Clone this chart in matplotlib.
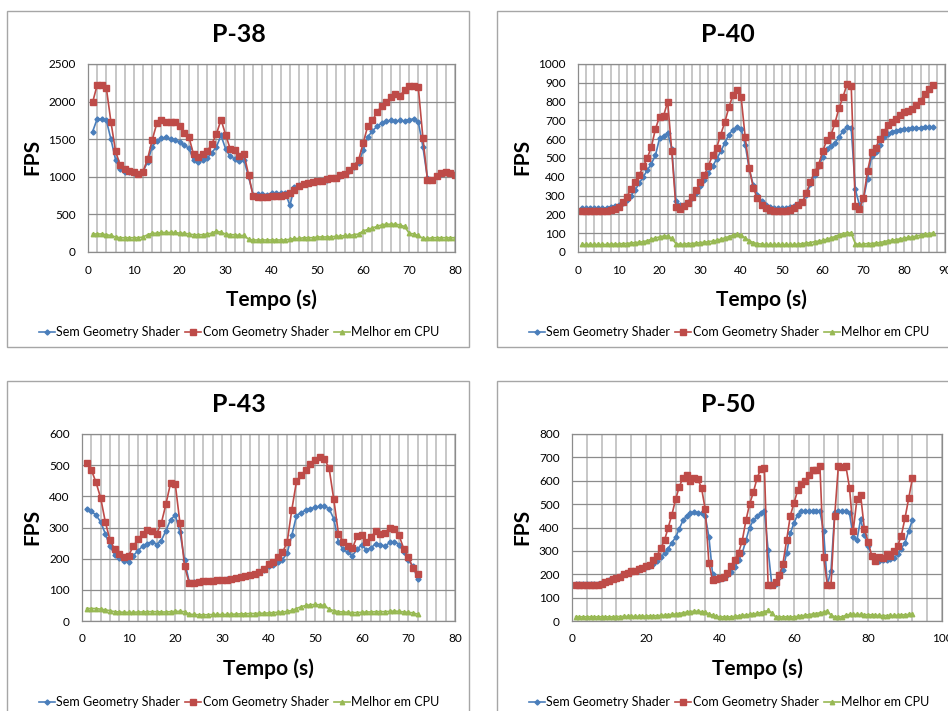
import matplotlib
matplotlib.use("Agg")
import matplotlib.pyplot as plt
from matplotlib.patches import Rectangle
from matplotlib.ticker import MultipleLocator

plt.rcParams['font.family'] = ['Lato', 'DejaVu Sans']

series_names = ["Sem Geometry Shader", "Com Geometry Shader", "Melhor em CPU"]
series_colors = ["#4a7ebb", "#be4b48", "#98b954"]

# ---- P-38 ----
p38_sem = [1600, 1770, 1770, 1750, 1500, 1230, 1110, 1070, 1060, 1050,
           1040, 1070, 1200, 1400, 1480, 1510, 1530, 1500, 1490, 1460,
           1420, 1380, 1220, 1200, 1230, 1250, 1320, 1400, 1550, 1370,
           1270, 1240, 1210, 1220, 1000, 760, 770, 770, 760, 780,
           780, 780, 790, 620, 860, 890, 910, 920, 930, 940,
           950, 960, 980, 990, 1010, 1040, 1080, 1130, 1180, 1360,
           1530, 1610, 1670, 1710, 1740, 1750, 1740, 1750, 1740, 1760,
           1770, 1730, 1400, 980, 960, 1010, 1040, 1060, 1050, 1040]
p38_com = [1990, 2220, 2220, 2180, 1730, 1340, 1160, 1100, 1080, 1060,
           1040, 1070, 1240, 1490, 1710, 1760, 1730, 1730, 1730, 1680,
           1580, 1530, 1300, 1260, 1300, 1340, 1440, 1570, 1760, 1560,
           1370, 1350, 1270, 1300, 1030, 740, 730, 730, 730, 740,
           740, 750, 760, 780, 820, 880, 910, 920, 930, 940,
           950, 970, 980, 990, 1020, 1040, 1090, 1150, 1230, 1450,
           1680, 1750, 1860, 1940, 1990, 2060, 2100, 2080, 2150, 2210,
           2210, 2190, 1520, 960, 960, 1010, 1050, 1060, 1050, 1030]
p38_cpu = [240, 240, 240, 230, 220, 200, 190, 190, 190, 190,
           190, 200, 230, 250, 250, 260, 260, 260, 260, 250,
           250, 240, 230, 230, 230, 240, 250, 280, 260, 240,
           230, 230, 220, 220, 170, 160, 160, 160, 160, 160,
           160, 160, 160, 170, 180, 180, 190, 190, 190, 200,
           200, 200, 200, 210, 210, 220, 220, 230, 240, 280,
           300, 320, 340, 360, 370, 370, 370, 360, 340, 250,
           240, 220, 180, 180, 190, 190, 190, 190, 190, 190]
p38_t = list(range(1, 81))

# ---- P-40 ----
p40_sem = [235, 235, 235, 235, 235, 235, 235, 240, 245, 250,
           258, 275, 300, 330, 365, 400, 435, 470, 515, 605,
           615, 635, 550, 270, 250, 250, 265, 285, 315, 350,
           385, 420, 455, 495, 535, 580, 625, 650, 665, 655,
           570, 440, 355, 305, 270, 250, 240, 235, 235, 235,
           235, 238, 245, 255, 265, 305, 360, 410, 455, 505,
           550, 565, 580, 610, 645, 665, 660, 335, 250, 280,
           390, 510, 530, 570, 610, 630, 640, 645, 650, 655,
           655, 660, 660, 660, 665, 665, 665]
p40_com = [220, 220, 220, 220, 220, 220, 220, 222, 230, 240,
           265, 295, 335, 375, 410, 455, 500, 560, 655, 720,
           725, 800, 535, 240, 230, 245, 260, 290, 330, 370,
           410, 460, 515, 555, 625, 690, 770, 835, 860, 825,
           610, 445, 340, 285, 250, 235, 225, 220, 220, 220,
           220, 225, 235, 250, 265, 315, 375, 425, 465, 535,
           595, 620, 685, 765, 825, 895, 885, 245, 230, 285,
           430, 530, 555, 600, 640, 675, 690, 710, 730, 745,
           750, 760, 780, 805, 840, 865, 890]
p40_cpu = [40, 40, 40, 40, 40, 40, 40, 42, 42, 42,
           45, 45, 48, 50, 52, 55, 60, 68, 75, 80,
           85, 85, 72, 45, 40, 42, 45, 45, 48, 50,
           52, 55, 58, 62, 68, 75, 82, 90, 95, 88,
           75, 60, 50, 45, 42, 40, 40, 40, 40, 40,
           40, 40, 40, 42, 45, 48, 50, 55, 58, 62,
           68, 75, 82, 92, 98, 102, 100, 45, 40, 42,
           45, 45, 48, 50, 55, 60, 62, 66, 70, 74,
           78, 80, 85, 90, 95, 98, 100]
p40_t = list(range(1, 88))

# ---- P-43 ----
p43_sem = [360, 352, 340, 318, 280, 240, 213, 203, 193, 190,
           210, 225, 240, 248, 255, 245, 258, 290, 325, 340,
           285, 195, 125, 124, 126, 127, 128, 129, 131, 133,
           134, 136, 139, 142, 145, 148, 152, 157, 165, 175,
           180, 188, 197, 218, 275, 338, 348, 355, 360, 365,
           368, 368, 360, 328, 253, 230, 220, 210, 230, 245,
           228, 235, 248, 245, 240, 252, 255, 245, 220, 195,
           175, 135]
p43_com = [507, 485, 445, 395, 318, 260, 230, 215, 205, 210,
           240, 262, 280, 293, 290, 280, 313, 375, 443, 440,
           315, 175, 122, 123, 125, 127, 128, 128, 130, 132,
           133, 135, 138, 142, 145, 148, 152, 158, 168, 182,
           190, 205, 220, 253, 357, 448, 470, 483, 503, 515,
           527, 520, 490, 390, 280, 255, 240, 233, 272, 275,
           255, 270, 288, 280, 283, 300, 295, 275, 232, 205,
           170, 150]
p43_cpu = [40, 40, 40, 38, 36, 33, 30, 29, 28, 28,
           28, 29, 29, 30, 30, 30, 29, 29, 30, 31,
           31, 30, 22, 21, 20, 20, 20, 21, 21, 21,
           21, 22, 22, 23, 23, 24, 24, 25, 25, 26,
           27, 28, 29, 31, 34, 40, 46, 50, 52, 53,
           52, 50, 38, 33, 30, 29, 28, 27, 27, 28,
           29, 29, 30, 30, 30, 31, 32, 31, 29, 28,
           26, 22]
p43_t = list(range(1, 73))

# ---- P-50 ----
p50_sem = [160, 160, 160, 160, 160, 160, 160, 162, 168, 175,
           180, 185, 192, 200, 205, 210, 215, 220, 225, 230,
           236, 245, 258, 272, 290, 310, 335, 358, 395, 430,
           450, 460, 465, 462, 460, 450, 360, 200, 180, 180,
           185, 195, 210, 230, 260, 290, 345, 400, 430, 448,
           460, 470, 305, 155, 160, 190, 220, 290, 375, 420,
           455, 470, 470, 470, 470, 470, 470, 385, 155, 215,
           465, 470, 470, 470, 460, 360, 345, 435, 370, 320,
           280, 255, 255, 260, 262, 265, 270, 285, 310, 335,
           385, 432]
p50_com = [155, 155, 155, 155, 155, 155, 155, 160, 165, 172,
           178, 183, 190, 200, 205, 212, 216, 222, 228, 235,
           240, 262, 280, 312, 345, 400, 455, 520, 575, 613,
           625, 598, 610, 607, 570, 478, 247, 175, 180, 185,
           190, 205, 235, 262, 292, 342, 430, 500, 550, 610,
           650, 655, 155, 155, 165, 195, 245, 345, 450, 505,
           560, 585, 600, 625, 645, 645, 665, 275, 155, 155,
           450, 665, 660, 665, 570, 385, 520, 540, 395, 340,
           280, 255, 275, 270, 285, 280, 300, 320, 365, 440,
           525, 610]
p50_cpu = [18, 18, 18, 18, 18, 18, 18, 18, 18, 18,
           18, 19, 19, 20, 20, 20, 20, 20, 21, 21,
           22, 22, 23, 24, 25, 27, 28, 30, 32, 35,
           38, 40, 42, 42, 40, 38, 30, 25, 20, 18,
           18, 18, 18, 20, 22, 24, 26, 28, 30, 33,
           36, 40, 45, 35, 18, 18, 18, 18, 18, 18,
           20, 22, 25, 27, 30, 32, 35, 38, 42, 25,
           18, 18, 18, 25, 28, 28, 28, 28, 27, 27,
           26, 25, 24, 23, 23, 24, 24, 25, 26, 27,
           28, 28]
p50_t = list(range(1, 93))

W, H = 948, 711
fig = plt.figure(figsize=(W / 100, H / 100), dpi=100)


def px_rect(x0, y0, x1, y1):
    return [x0 / W, 1 - y1 / H, (x1 - x0) / W, (y1 - y0) / H]


def panel(frame, axbox, title, t, sem, com, cpu, xmax, xmaj, xmin, ymax, ymaj,
          title_pos, xlab_pos, ylab_pos, leg_pos):
    fx0, fy0, fx1, fy1 = frame
    fig.patches.append(Rectangle((fx0 / W, 1 - fy1 / H), (fx1 - fx0) / W, (fy1 - fy0) / H,
                                 transform=fig.transFigure, fill=False,
                                 edgecolor="#a6a6a6", linewidth=1.0))
    ax = fig.add_axes(px_rect(*axbox))
    ax.plot(t, sem, color=series_colors[0], marker="D", markersize=2.6, lw=1.2,
            label=series_names[0])
    ax.plot(t, com, color=series_colors[1], marker="s", markersize=4.2, lw=1.2,
            label=series_names[1])
    ax.plot(t, cpu, color=series_colors[2], marker="^", markersize=3.2, lw=1.2,
            label=series_names[2])
    ax.set_xlim(0, xmax)
    ax.set_ylim(0, ymax)
    ax.xaxis.set_major_locator(MultipleLocator(xmaj))
    ax.xaxis.set_minor_locator(MultipleLocator(xmin))
    ax.yaxis.set_major_locator(MultipleLocator(ymaj))
    ax.grid(True, which="major", axis="y", color="#8c8c8c", lw=0.9)
    ax.grid(True, which="both", axis="x", color="#bdbdbd", lw=1.2)
    ax.set_axisbelow(True)
    for s in ax.spines.values():
        s.set_color("#8c8c8c")
        s.set_linewidth(0.9)
    ax.tick_params(which="both", length=0, labelsize=8.5, pad=9)
    fig.text(title_pos[0] / W, 1 - title_pos[1] / H, title, ha="center", va="center",
             fontsize=18, fontweight="bold")
    fig.text(xlab_pos[0] / W, 1 - xlab_pos[1] / H, "Tempo (s)", ha="center", va="center",
             fontsize=15, fontweight="bold")
    fig.text(ylab_pos[0] / W, 1 - ylab_pos[1] / H, "FPS", ha="center", va="center",
             rotation=90, fontsize=15, fontweight="bold")
    ax.legend(loc="center", bbox_to_anchor=(leg_pos[0] / W, 1 - leg_pos[1] / H),
              bbox_transform=fig.transFigure, ncol=3, frameon=False, fontsize=9,
              handlelength=1.3, handletextpad=0.1, columnspacing=0.4)
    return ax


panel((7, 11, 469, 347), (88, 64, 455, 252), "P-38", p38_t, p38_sem, p38_com, p38_cpu,
      80, 10, 2, 2500, 500, (239, 35), (271, 300), (32, 157), (239, 332))
panel((497, 11, 960, 347), (578, 64, 945, 252), "P-40", p40_t, p40_sem, p40_com, p40_cpu,
      90, 10, 2, 1000, 100, (728, 35), (761, 300), (522, 157), (729, 332))
panel((7, 381, 469, 720), (82, 434, 455, 621), "P-43", p43_t, p43_sem, p43_com, p43_cpu,
      80, 10, 2, 600, 100, (239, 405), (268, 669), (32, 527), (239, 702))
panel((497, 381, 960, 720), (572, 434, 942, 621), "P-50", p50_t, p50_sem, p50_com, p50_cpu,
      100, 20, 4, 800, 100, (728, 405), (757, 669), (522, 527), (729, 702))

fig.savefig("out.png", dpi=100)
